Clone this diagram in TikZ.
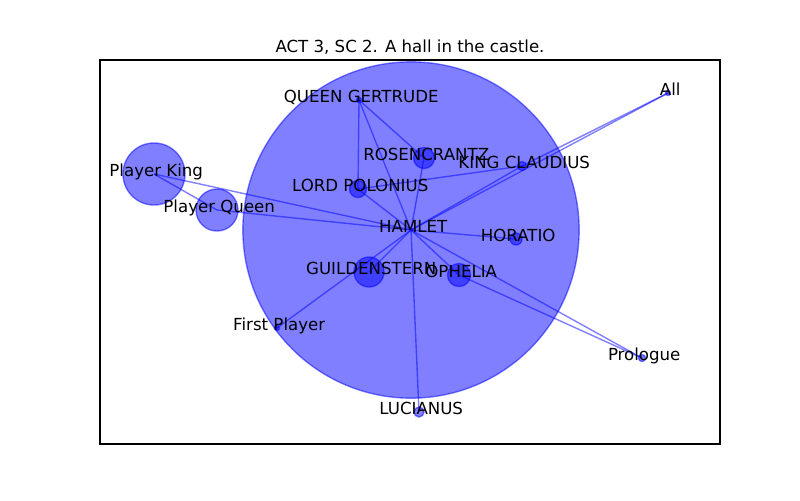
\documentclass[tikz,border=0pt]{standalone}
\usepackage{fontspec}
\setmainfont{DejaVu Sans}
\usetikzlibrary{positioning}
\tikzset{
  actor/.style={circle, inner sep=0pt, draw=blue, fill=blue, opacity=0.5, line width=1pt},
  rad/.style={minimum size=#1*0.02in},
  tie/.style={blue, opacity=0.5, line width=1pt},
  name tag/.style={anchor=base, xshift=1.6pt, yshift=-1.7pt, inner sep=0pt, font=\fontsize{12}{14}\selectfont},
  heading/.style={anchor=base, inner sep=0pt, font=\fontsize{12}{14}\selectfont}
}

\begin{document}
\begin{tikzpicture}[x=0.01in, y=-0.01in]
  \useasboundingbox (0,0) rectangle (800,500);

  % Axes frame and title
  \draw[line width=0.8pt] (100,60) rectangle (720,444);
  \node[heading] (title) at (410,52) {ACT 3, SC 2. A hall in the castle.};

  % Characters (size = lines spoken)
  \node[actor, rad=168] (ham) at (411,230) {};
  \node[actor, rad=2.5] (qg) at (359,100) {};
  \node[actor, rad=10.5] (ros) at (424,158) {};
  \node[actor, rad=4.5] (kc) at (522,166) {};
  \node[actor, rad=8.5] (lp) at (358,189) {};
  \node[actor, rad=2.5] (all) at (668,93) {};
  \node[actor, rad=31] (pk) at (154,174) {};
  \node[actor, rad=21] (pq) at (217,210) {};
  \node[actor, rad=6] (hor) at (516,239) {};
  \node[actor, rad=15] (gui) at (369,272) {};
  \node[actor, rad=11.5] (oph) at (459,275) {};
  \node[actor, rad=2.5] (fp) at (277,328) {};
  \node[actor, rad=3.5] (pro) at (642,358) {};
  \node[actor, rad=5] (luc) at (419,412) {};

  % Who speaks with whom
  \foreach \other in {qg,ros,lp,kc,all,pk,pq,hor,gui,oph,fp,luc,pro}
    \draw[tie] (ham.center) -- (\other.center);
  \draw[tie] (qg.center) -- (ros.center);
  \draw[tie] (qg.center) -- (lp.center);
  \draw[tie] (lp.center) -- (kc.center);
  \draw[tie] (kc.center) -- (all.center);
  \draw[tie] (pk.center) -- (pq.center);
  \draw[tie] (oph.center) -- (pro.center);

  % Names
  \node[name tag] (ham-name) at (ham) {HAMLET};
  \node[name tag] (qg-name) at (qg) {QUEEN GERTRUDE};
  \node[name tag] (ros-name) at (ros) {ROSENCRANTZ};
  \node[name tag] (kc-name) at (kc) {KING CLAUDIUS};
  \node[name tag] (lp-name) at (lp) {LORD POLONIUS};
  \node[name tag] (all-name) at (all) {All};
  \node[name tag] (pk-name) at (pk) {Player King};
  \node[name tag] (pq-name) at (pq) {Player Queen};
  \node[name tag] (hor-name) at (hor) {HORATIO};
  \node[name tag] (gui-name) at (gui) {GUILDENSTERN};
  \node[name tag] (oph-name) at (oph) {OPHELIA};
  \node[name tag] (fp-name) at (fp) {First Player};
  \node[name tag] (pro-name) at (pro) {Prologue};
  \node[name tag] (luc-name) at (luc) {LUCIANUS};
\end{tikzpicture}
\end{document}
